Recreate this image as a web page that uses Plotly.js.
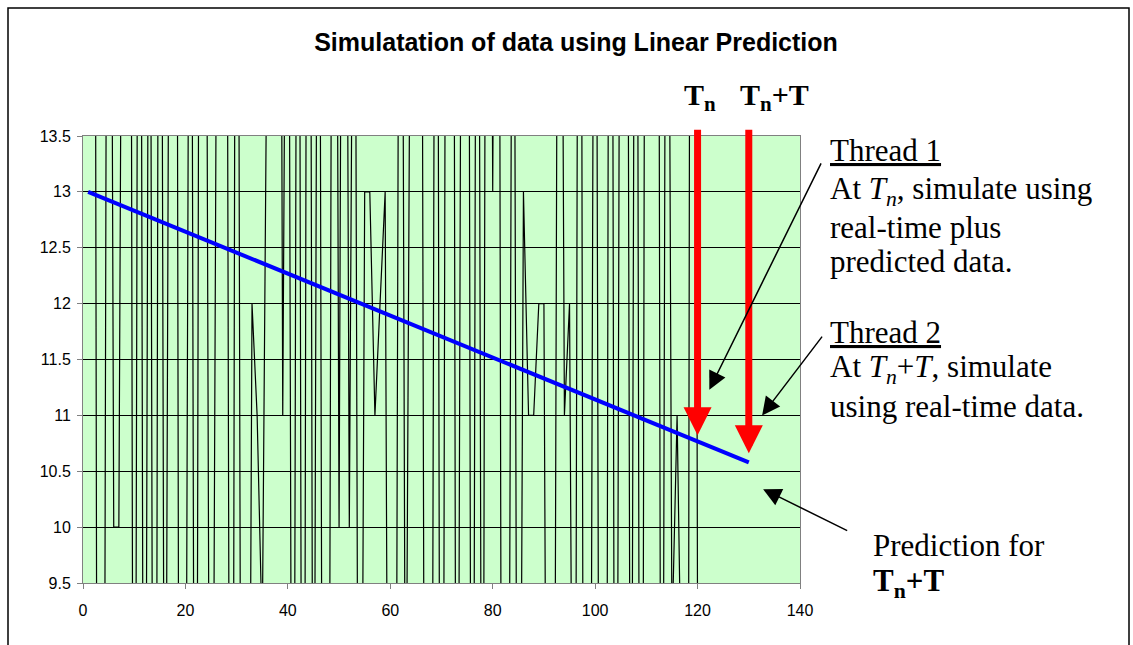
<!DOCTYPE html>
<html>
<head>
<meta charset="utf-8">
<script src="https://cdn.plot.ly/plotly-3.0.1.min.js"></script>
<style>
  html, body { margin: 0; padding: 0; background: #fff; }
  #chart { width: 1133px; height: 645px; }
</style>
</head>
<body>
<div id="chart"></div>
<script>
// Sample index of the simulated series
const sampleX = [
  1, 2, 3, 4, 5, 6, 7, 8, 9, 10, 11, 12, 13, 14, 15, 16, 17, 18, 19, 20,
  21, 22, 23, 24, 25, 26, 27, 28, 29, 30, 31, 32, 33, 34, 35, 36, 37, 38, 39, 40,
  41, 42, 43, 44, 45, 46, 47, 48, 49, 50, 51, 52, 53, 54, 55, 56, 57, 58, 59, 60,
  61, 62, 63, 64, 65, 66, 67, 68, 69, 70, 71, 72, 73, 74, 75, 76, 77, 78, 79, 80,
  81, 82, 83, 84, 85, 86, 87, 88, 89, 90, 91, 92, 93, 94, 95, 96, 97, 98, 99, 100,
  101, 102, 103, 104, 105, 106, 107, 108, 109, 110, 111, 112, 113, 114, 115, 116, 117, 118, 119, 120
];

// Simulated real-time data
const sampleY = [
  21, 25, 1, 4, 23, 10, 10, 20, 24, 2, 22, 3, 19, 0, 22, 5, 18, 24, 1, 6,
  20, 2, 23, 17, 3, 21, 25, 18, 0, 22, 4, 2, 12, 11, 9, 15, 22, 25, 11, 19,
  3, 21, 1, 24, 5, 20, 2, 6, 23, 10, 22, 10, 18, 3, 13, 13, 11, 12, 13, 2,
  5, 21, 7, 16, 24, 19, 1, 4, 22, 0, 20, 25, 3, 18, 23, 2, 21, 4, 24, 13,
  22, 1, 5, 19, 3, 13, 11, 11, 12, 12, 2, 6, 21, 11, 12, 4, 23, 0, 5, 20,
  3, 1, 24, 2, 19, 22, 5, 21, 0, 23, 18, 25, 3, 20, 9, 11, 8, 2, 30, 9
];

// Linear prediction line
const predX = [1, 130];
const predY = [13.0, 10.58];

// Time marks
const tn = 120;
const tnT = 130;

// Axis settings
const xRange = [0, 140];
const yRange = [9.5, 13.5];

function predAt(x) {
  const t = (x - predX[0]) / (predX[1] - predX[0]);
  return predY[0] + t * (predY[1] - predY[0]);
}

// Plot area in pixels
const plotL = 83, plotR = 800, plotT = 136, plotB = 583;
const W = 1133, H = 645;
function px2paperX(px) { return (px - plotL) / (plotR - plotL); }
function px2paperY(py) { return (plotB - py) / (plotB - plotT); }

const serif = 'Liberation Serif, Times New Roman, serif';
const sans = 'Liberation Sans, Arial, sans-serif';

const traces = [
  {
    x: sampleX, y: sampleY, type: 'scatter', mode: 'lines',
    line: { color: '#000000', width: 1.2 }, hoverinfo: 'skip'
  },
  {
    x: predX, y: predY, type: 'scatter', mode: 'lines',
    line: { color: '#0000FF', width: 4 }, hoverinfo: 'skip'
  }
];

function textNote(text, pxLeft, pyCenter) {
  return {
    xref: 'paper', yref: 'paper',
    x: px2paperX(pxLeft), y: px2paperY(pyCenter),
    xanchor: 'left', yanchor: 'middle', borderpad: 0,
    text: text, showarrow: false,
    font: { family: serif, size: 31, color: '#000' }
  };
}

function pointer(tipX, tipY, tailX, tailY) {
  return {
    x: tipX, y: tipY, xref: 'x', yref: 'y',
    ax: tailX, ay: tailY, axref: 'x', ayref: 'y',
    showarrow: true, arrowhead: 2, arrowsize: 2.4, arrowwidth: 1.5,
    arrowcolor: '#000', text: ' '
  };
}

function timeArrow(t, gap) {
  return {
    x: t, y: predAt(t), xref: 'x', yref: 'y',
    ax: t, ay: 13.645, axref: 'x', ayref: 'y',
    showarrow: true, arrowhead: 2, arrowsize: 0.8, arrowwidth: 7,
    arrowcolor: '#FF0000', standoff: gap, text: ' '
  };
}

const annotations = [
  // red time arrows
  timeArrow(tn, 6),
  timeArrow(tnT, 9),
  // black pointer arrows
  pointer(122.3, 11.23, 144.7, 13.31),
  pointer(132.6, 11.0, 144.9, 11.74),
  pointer(132.8, 10.34, 149.8, 9.956),
  // labels above the red arrows
  {
    xref: 'paper', yref: 'paper', x: px2paperX(700), y: px2paperY(97),
    xanchor: 'center', yanchor: 'middle', showarrow: false,
    text: '<b>T<sub>n</sub></b>', font: { family: serif, size: 30, color: '#000' }
  },
  {
    xref: 'paper', yref: 'paper', x: px2paperX(774), y: px2paperY(97),
    xanchor: 'center', yanchor: 'middle', showarrow: false,
    text: '<b>T<sub>n</sub>+T</b>', font: { family: serif, size: 30, color: '#000' }
  },
  // thread notes
  textNote('<u>Thread 1</u>', 829, 151),
  textNote('At <i>T<sub>n</sub></i>, simulate using', 829, 191),
  textNote('real-time plus', 829, 227),
  textNote('predicted data.', 829, 261),
  textNote('<u>Thread 2</u>', 829, 332),
  textNote('At <i>T<sub>n</sub></i>+<i>T</i>, simulate', 829, 369),
  textNote('using real-time data.', 829, 406),
  textNote('Prediction for', 872, 545),
  textNote('<b>T<sub>n</sub>+T</b>', 872, 583)
];

const layout = {
  width: W, height: H,
  margin: { l: plotL, r: W - plotR, t: plotT, b: H - plotB, pad: 0 },
  paper_bgcolor: '#FFFFFF',
  plot_bgcolor: '#CCFFCC',
  showlegend: false,
  title: {
    text: '<b>Simulatation of data using Linear Prediction</b>',
    x: 576 / W, xanchor: 'center', xref: 'container',
    y: 1 - 42 / H, yanchor: 'middle', yref: 'container',
    font: { family: sans, size: 25, color: '#000' }
  },
  xaxis: {
    range: xRange, tick0: 0, dtick: 20, showgrid: false, zeroline: false,
    showline: true, linecolor: '#808080', linewidth: 1, mirror: true,
    ticks: 'outside', ticklen: 5, tickcolor: '#808080',
    ticklabelstandoff: 8,
    tickfont: { family: sans, size: 16, color: '#000' }
  },
  yaxis: {
    range: yRange, tick0: 9.5, dtick: 0.5, showgrid: true,
    gridcolor: '#000000', gridwidth: 1, zeroline: false,
    showline: true, linecolor: '#808080', linewidth: 1, mirror: true,
    ticks: 'outside', ticklen: 5, tickcolor: '#808080',
    ticklabelstandoff: 3,
    tickfont: { family: sans, size: 16, color: '#000' }
  },
  annotations: annotations,
  shapes: [
    {
      type: 'rect', xref: 'paper', yref: 'paper', layer: 'below',
      x0: px2paperX(8), x1: px2paperX(1129),
      y0: px2paperY(660), y1: px2paperY(8),
      line: { color: '#000', width: 1.5 }, fillcolor: 'rgba(0,0,0,0)'
    }
  ]
};

Plotly.newPlot('chart', traces, layout, { staticPlot: true, displayModeBar: false });
</script>
</body>
</html>
